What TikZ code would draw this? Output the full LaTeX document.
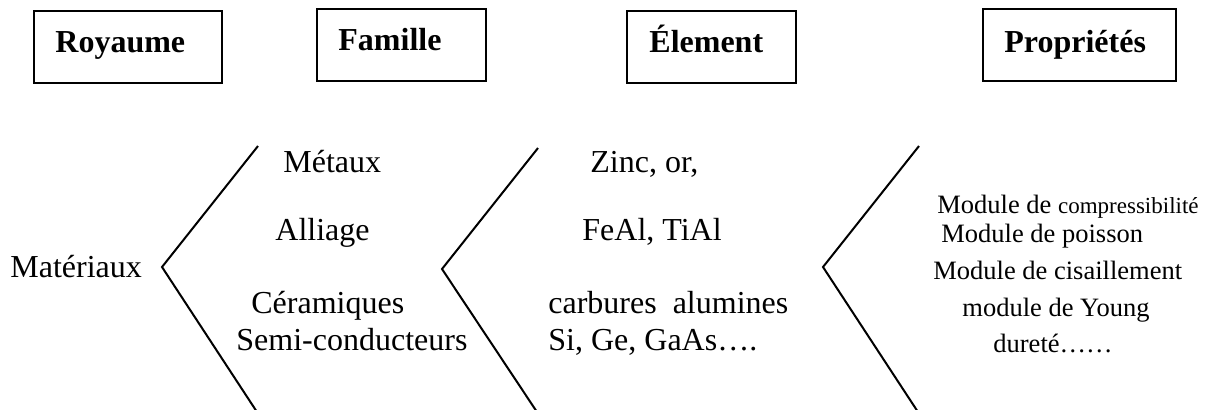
\documentclass[tikz,border=0pt]{standalone}
\usepackage{fontspec}
\setmainfont{Liberation Serif}
\begin{document}
\begin{tikzpicture}[x=0.5pt,y=-0.5pt,
  hbox/.style={draw, line width=1pt, inner sep=0pt, minimum height=36pt},
  head/.style={anchor=base west, inner sep=0pt, font=\fontsize{16}{19}\selectfont\bfseries},
  lbl/.style={anchor=base west, inner sep=0pt, font=\fontsize{16}{19}\selectfont},
  prop/.style={anchor=base west, inner sep=0pt, font=\fontsize{13.25}{16}\selectfont},
  chev/.style={line width=1pt, line join=miter}]
\useasboundingbox (0,0) rectangle (1216,409);
% header boxes
\node[hbox, minimum width=94pt]   (bRoy)  at (128,47)    {};
\node[hbox, minimum width=84.5pt] (bFam)  at (401.5,45)  {};
\node[hbox, minimum width=84.5pt] (bEle)  at (711.5,47)  {};
\node[hbox, minimum width=96.5pt] (bProp) at (1079.5,45) {};
\node[head] (tRoy)  at (55,52)   {Royaume};
\node[head] (tFam)  at (338,50)  {Famille};
\node[head] (tEle)  at (649,52)  {Élement};
\node[head] (tProp) at (1004,52) {Propriétés};
% chevrons
\coordinate (c1t) at (258,146); \coordinate (c1v) at (162,267); \coordinate (c1b) at (257,412);
\coordinate (c2t) at (538,148); \coordinate (c2v) at (442,269); \coordinate (c2b) at (537,412);
\coordinate (c3t) at (919,146); \coordinate (c3v) at (823,267); \coordinate (c3b) at (918,412);
\draw[chev] (c1t) -- (c1v) -- (c1b);
\draw[chev] (c2t) -- (c2v) -- (c2b);
\draw[chev] (c3t) -- (c3v) -- (c3b);
% texts
\node[lbl] (mat)  at (10,277)  {Matériaux};
\node[lbl] (met)  at (283,172) {Métaux};
\node[lbl] (all)  at (275,240) {Alliage};
\node[lbl] (cer)  at (251,313) {Céramiques};
\node[lbl] (semi) at (236,350) {Semi-conducteurs};
\node[lbl] (zinc) at (590,172) {Zinc, or,};
\node[lbl] (feal) at (582,240) {FeAl, TiAl};
\node[lbl] (carb) at (548,313) {carbures\ \ alumines};
\node[lbl] (sige) at (548,350) {Si, Ge, GaAs….};
\node[prop] (p1) at (937,213) {Module de {\fontsize{11.5}{14}\selectfont compressibilité}};
\node[prop] (p2) at (941,242) {Module de poisson};
\node[prop] (p3) at (933,279) {Module de cisaillement};
\node[prop] (p4) at (962,316) {module de Young};
\node[prop] (p5) at (993,352) {dureté……};
\end{tikzpicture}
\end{document}
